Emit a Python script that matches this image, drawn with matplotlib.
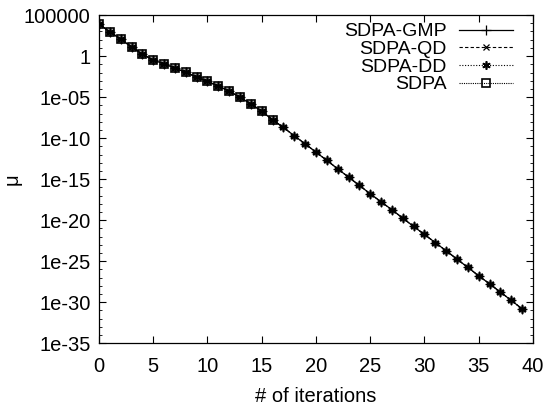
import matplotlib
matplotlib.use("Agg")
import matplotlib.pyplot as plt
from matplotlib.ticker import FixedLocator, FuncFormatter

plt.rcParams['font.family'] = ['Liberation Sans', 'DejaVu Sans']

# iterations and log10(mu)
iters = list(range(40))
log_mu = [3.90, 2.96, 2.07, 1.13, 0.24, -0.49, -0.94, -1.46, -1.99, -2.56,
          -3.09, -3.66, -4.27, -5.04, -5.82, -6.74, -7.77, -8.70, -9.72, -10.70,
          -11.71, -12.72, -13.74, -14.76, -15.77, -16.79, -17.77, -18.74, -19.76, -20.77,
          -21.75, -22.75, -23.74, -24.76, -25.77, -26.79, -27.77, -28.78, -29.79, -30.82]
mu_gmp = [10 ** v for v in log_mu]
mu_qd = [10 ** v for v in log_mu]
mu_dd = [10 ** v for v in log_mu]
sdpa_iters = iters[:17]
mu_sdpa = [10 ** v for v in log_mu[:17]]

ytick_vals = [1e5, 1, 1e-5, 1e-10, 1e-15, 1e-20, 1e-25, 1e-30, 1e-35]
ytick_labels = ["100000", "1", "1e-05", "1e-10", "1e-15", "1e-20", "1e-25", "1e-30", "1e-35"]

FS = 14.5


def ylab(v, p):
    for t, s in zip(ytick_vals, ytick_labels):
        if abs(v - t) <= t * 1e-6:
            return s
    return ""


def main():
    fig = plt.figure(figsize=(5.5, 4.08), dpi=100)
    ax = fig.add_axes([0.18, 0.159, 0.789, 0.804])

    ax.plot(iters, mu_gmp, color="k", lw=0.9, ls="-",
            marker="+", ms=6.5, mew=0.9, label="SDPA-GMP")
    ax.plot(iters, mu_qd, color="k", lw=0.8, ls=(0, (3, 2)),
            marker="x", ms=4.5, mew=0.9, label="SDPA-QD")
    ax.plot(iters, mu_dd, color="k", lw=0.8, ls=(0, (1, 1.5)),
            marker=(6, 2, 0), ms=6, mew=1.2, label="SDPA-DD")
    ax.plot(sdpa_iters, mu_sdpa, color="k", lw=0.8, ls=(0, (1, 1)),
            marker="s", ms=5.5, mfc="none", mew=1.2, label="SDPA")

    ax.set_yscale("log")
    ax.set_xlim(0, 40)
    ax.set_ylim(1e-35, 1e5)
    ax.set_xticks(range(0, 41, 5))
    ax.yaxis.set_major_locator(FixedLocator(ytick_vals))
    ax.yaxis.set_major_formatter(FuncFormatter(ylab))
    ax.yaxis.set_minor_locator(FixedLocator([10.0 ** k for k in range(-35, 6)]))
    ax.yaxis.set_minor_formatter(FuncFormatter(lambda v, p: ""))

    ax.tick_params(which="both", direction="in", top=True, right=True, labelsize=FS)
    ax.tick_params(which="major", length=5, width=0.8)
    ax.tick_params(which="minor", length=2.5, width=0.6)
    ax.tick_params(axis="x", pad=10)
    ax.tick_params(axis="y", pad=6)
    for s in ax.spines.values():
        s.set_linewidth(0.9)

    ax.set_xlabel("# of iterations", fontsize=FS, labelpad=8)
    ax.set_ylabel("μ", fontsize=FS, labelpad=2)

    ax.legend(loc="upper right", bbox_to_anchor=(0.972, 1.0),
              frameon=False, markerfirst=False, fontsize=14, handlelength=2.8,
              labelspacing=0.0, borderaxespad=0.1, borderpad=0.3, handletextpad=0.6)

    fig.savefig("out.png", dpi=100)


main()
